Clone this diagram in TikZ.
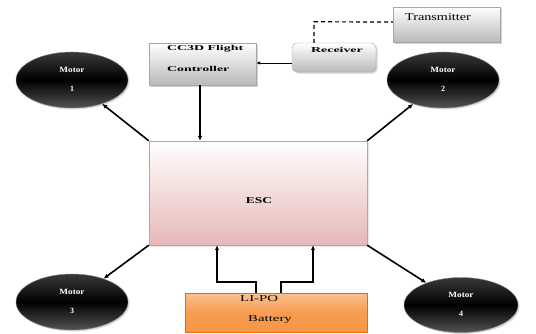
\documentclass[tikz,border=0pt]{standalone}
\usepackage{graphicx}
\usepackage{fontspec}
\setmainfont{Liberation Serif}
\usetikzlibrary{shapes.geometric,shadows,arrows.meta}
\definecolor{escpink}{HTML}{E6B8B7}
\definecolor{escline}{HTML}{D99694}
\definecolor{batorange}{HTML}{F79646}
\definecolor{battop}{HTML}{FAC090}
\definecolor{batline}{HTML}{E46C0A}
\newcommand{\wide}[2]{\scalebox{#1}[1]{#2}}
\begin{document}
\begin{tikzpicture}[x=1pt,y=-1pt,
  graybox/.style={draw=gray!70, top color=white, bottom color=gray!55, drop shadow={opacity=0.35, shadow xshift=1.5pt, shadow yshift=-1.5pt}},
  motor/.style={ellipse, draw=gray, top color=gray!45!black, bottom color=gray!65!black, middle color=black, minimum width=112pt, minimum height=56pt, drop shadow={opacity=0.3, shadow xshift=1.5pt, shadow yshift=-1.5pt}},
  mtext/.style={text=white, font=\bfseries\fontsize{8}{9}\selectfont},
  btext/.style={font=\bfseries\fontsize{7.5}{9}\selectfont, anchor=west, inner sep=0pt},
  arr/.style={line width=1.6pt, -{Latex[length=5pt,width=4.5pt]}}]
\useasboundingbox (0,0) rectangle (536,333);
% boxes
\node[graybox, minimum width=107pt, minimum height=35pt] (tx) at (446.5,24.5) {};
\node[anchor=west, inner sep=0pt, font=\fontsize{10.5}{12}\selectfont] (txt) at (405,17) {\wide{1.35}{Transmitter}};
\node[graybox, rounded corners=5pt, minimum width=84pt, minimum height=29pt] (rx) at (334,57.5) {};
\node[btext] (rxt) at (311,50) {\wide{1.85}{Receiver}};
\node[graybox, minimum width=107pt, minimum height=42pt] (fc) at (202.5,64) {};
\node[btext] (fct1) at (167,49) {\wide{1.85}{CC3D Flight}};
\node[btext] (fct2) at (167,69) {\wide{1.85}{Controller}};
\node[draw=escline, top color=white, bottom color=escpink, minimum width=218pt, minimum height=104pt, drop shadow={opacity=0.2, shadow xshift=1.5pt, shadow yshift=-1.5pt}] (esc) at (258,193) {};
\node[font=\bfseries\fontsize{9}{10}\selectfont] (esct) at (259,201) {\wide{1.5}{ESC}};
\node[draw=batline, top color=battop, bottom color=batorange, middle color=batorange!85!battop, minimum width=182pt, minimum height=39pt] (bat) at (276,312.5) {};
\node[anchor=west, inner sep=0pt, font=\fontsize{9}{10}\selectfont] (batt1) at (240,299) {\wide{1.65}{LI-PO}};
\node[anchor=west, inner sep=0pt, font=\fontsize{9}{10}\selectfont] (batt2) at (248,320) {\wide{1.65}{Battery}};
% motors
\node[motor] (m1) at (72,80) {};
\node[motor] (m2) at (443,80) {};
\node[motor] (m3) at (72,302) {};
\node[motor, minimum width=114pt, minimum height=55pt] (m4) at (461,305) {};
\foreach \m/\n/\x/\y in {m1/1/72/80, m2/2/443/80, m3/3/72/302, m4/4/461/305}{
  \node[mtext] (\m a) at (\x,\y-10) {\wide{1.15}{Motor}};
  \node[mtext] (\m b) at (\x,\y+9) {\n};
}
% connectors
\draw[line width=1.2pt, dash pattern=on 4pt off 3pt] ([xshift=-20pt]rx.north) -- ++(0,-21) -- (tx.west |- 0,22);
\draw[line width=1pt, -{Latex[length=4pt,width=3.5pt]}] ([yshift=-5.5pt]rx.west) -- ([yshift=-5.5pt]fc.east |- rx.west);
\draw[arr] ([xshift=-2.5pt]fc.south) -- ([xshift=-2.5pt]fc.south |- esc.north);
\draw[arr] (esc.north west) -- (m1);
\draw[arr] (esc.north east) -- (m2);
\draw[arr] (esc.south west) -- (m3);
\draw[arr] (esc.south east) -- (m4);
\draw[arr] ([xshift=-20pt]bat.north) -- ++(0,-11) -| ([xshift=-41pt]esc.south);
\draw[arr] ([xshift=5pt]bat.north) -- ++(0,-11) -| ([xshift=55pt]esc.south);
\end{tikzpicture}
\end{document}
